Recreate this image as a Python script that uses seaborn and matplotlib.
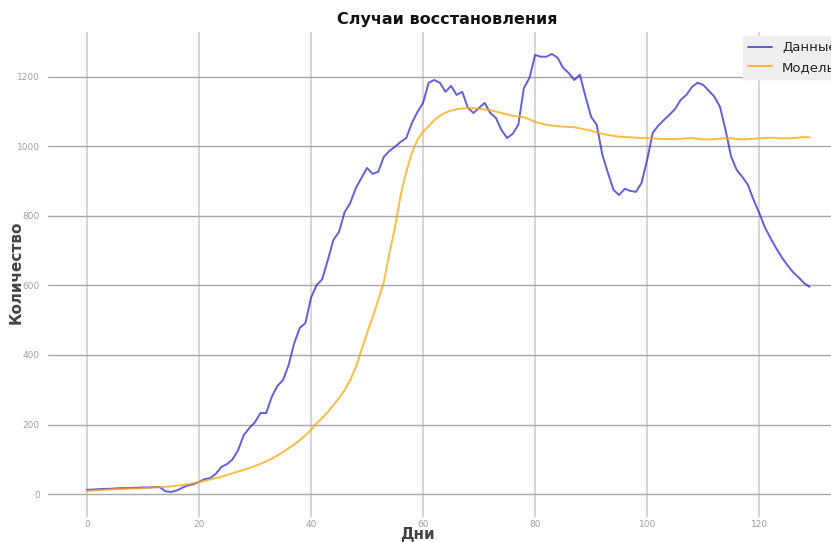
import matplotlib
matplotlib.use("Agg")
import matplotlib.pyplot as plt
import numpy as np
import pandas as pd
import seaborn as sns

days = np.arange(130)

data_values = [
    12, 13, 14, 15, 15, 16, 17, 17, 18, 18,
    19, 19, 20, 20, 8, 6, 10, 18, 25, 28,
    35, 43, 46, 58, 78, 86, 100, 127, 170, 190,
    207, 233, 233, 280, 311, 328, 371, 434, 478, 492,
    565, 601, 618, 673, 731, 754, 811, 837, 880, 909,
    938, 921, 927, 970, 987, 999, 1013, 1024, 1067, 1099,
    1125, 1183, 1191, 1183, 1157, 1174, 1148, 1157, 1111, 1096,
    1111, 1125, 1096, 1082, 1047, 1024, 1036, 1062, 1168, 1197,
    1263, 1258, 1258, 1266, 1255, 1226, 1211, 1191, 1206, 1143,
    1085, 1062, 976, 924, 875, 860, 878, 872, 869, 895,
    961, 1039, 1060, 1076, 1091, 1108, 1134, 1148, 1171, 1183,
    1177, 1160, 1143, 1114, 1047, 970, 932, 912, 889, 846,
    809, 768, 737, 708, 682, 659, 639, 624, 607, 596,
]

model_values = [
    9, 10, 11, 12, 13, 14, 14, 15, 16, 16,
    17, 18, 19, 20, 21, 22, 24, 26, 28, 31,
    35, 38, 42, 46, 50, 55, 60, 65, 70, 75,
    81, 87, 94, 102, 111, 121, 132, 143, 155, 169,
    184, 204, 219, 236, 256, 276, 299, 328, 365, 414,
    463, 509, 558, 610, 693, 768, 860, 927, 981, 1019,
    1042, 1058, 1075, 1088, 1097, 1103, 1107, 1109, 1110, 1110,
    1108, 1106, 1104, 1100, 1096, 1092, 1088, 1086, 1084, 1078,
    1070, 1066, 1062, 1060, 1058, 1057, 1056, 1055, 1052, 1048,
    1045, 1040, 1036, 1033, 1030, 1028, 1027, 1026, 1025, 1024,
    1024, 1023, 1022, 1021, 1021, 1021, 1022, 1023, 1024, 1022,
    1020, 1020, 1021, 1022, 1024, 1023, 1021, 1020, 1021, 1022,
    1023, 1024, 1025, 1024, 1023, 1023, 1024, 1025, 1027, 1026,
]

sns.set_theme(style="whitegrid")
plt.rcParams["font.family"] = ["DejaVu Sans"]

fig = plt.figure(figsize=(8.31, 5.42), dpi=100)
# the reference is cropped on the right, so the axes run past the figure edge
ax = fig.add_axes([48 / 831, 1 - 517 / 542, (846 - 48) / 831, (517 - 32) / 542])

sns.lineplot(x=days, y=data_values, ax=ax, color="#2a2ad6", alpha=0.75,
             linewidth=1.4, label="Данные")
sns.lineplot(x=days, y=model_values, ax=ax, color="orange", alpha=0.75,
             linewidth=1.4, label="Модель")

ax.set_xlim(-6.95, 135.5)
ax.set_ylim(-66, 1329)
ax.set_xticks(np.arange(0, 130, 20))
ax.set_yticks(np.arange(0, 1201, 200))

ax.grid(axis="y", color="#a8a8a8", linewidth=1.0)
ax.grid(axis="x", color="#d0d0d0", linewidth=1.2)
for s in ax.spines.values():
    s.set_visible(False)
ax.tick_params(axis="x", labelsize=6.5, labelcolor="#a0a0a0", length=0, pad=2)
ax.tick_params(axis="y", labelsize=6.5, labelcolor="#a0a0a0", length=0, pad=6)

ax.set_title("Случаи восстановления", fontsize=11.5, fontweight="bold",
             color="#111111", pad=6)
ax.set_xlabel("Дни", fontsize=11, fontweight="bold", color="#444444")
ax.set_ylabel("Количество", fontsize=11, fontweight="bold", color="#444444")
ax.xaxis.set_label_coords((417 - 48) / 798, (517 - 535) / 485)
ax.yaxis.set_label_coords((16 - 48) / 798, (517 - 272) / 485)
ax.xaxis.label.set_verticalalignment("center")
ax.yaxis.label.set_verticalalignment("center")

leg = ax.legend(loc="upper right", fontsize=9.5, frameon=True, fancybox=False,
                borderaxespad=0.3, handlelength=1.8)
leg.get_frame().set_facecolor("#eeeeee")
leg.get_frame().set_edgecolor("#eeeeee")
leg.get_frame().set_alpha(1.0)

fig.savefig("out.png", dpi=100)
